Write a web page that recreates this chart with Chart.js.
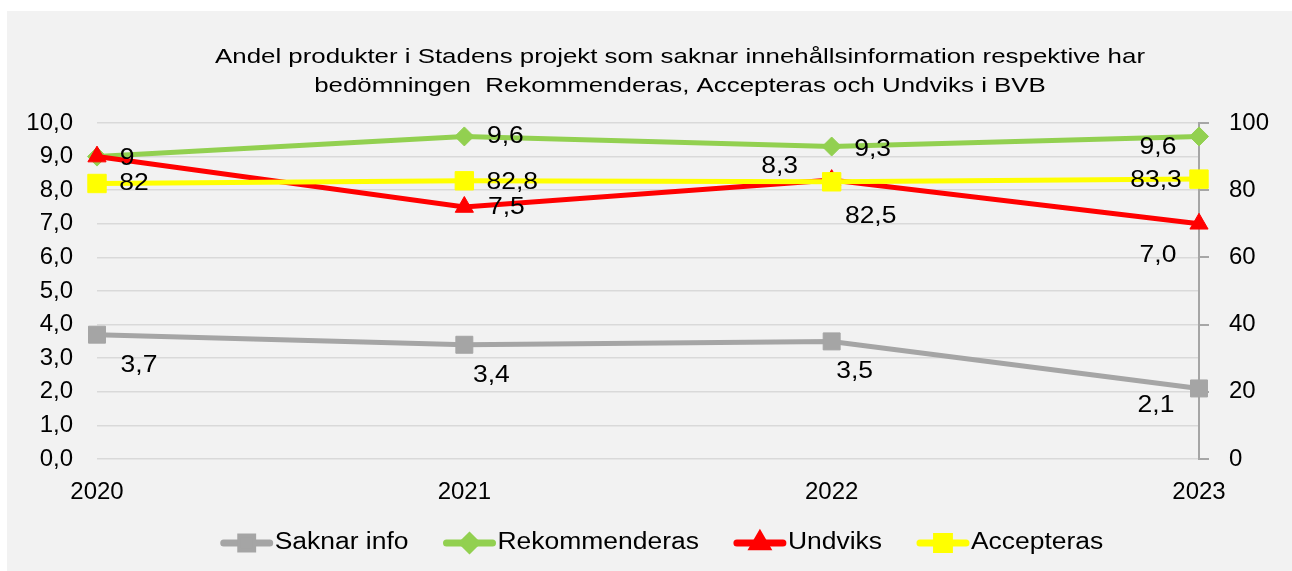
<!DOCTYPE html>
<html>
<head>
<meta charset="utf-8">
<script src="https://cdn.jsdelivr.net/npm/chart.js@4"></script>
<style>
html,body{margin:0;padding:0;background:#fff;}
#wrap{width:1292px;height:571px;position:relative;}
</style>
</head>
<body>
<div id="wrap"><canvas id="c"></canvas></div>
<script>
const categories = ['2020', '2021', '2022', '2023'];
const saknarInfo = [3.7, 3.4, 3.5, 2.1];
const rekommenderas = [9.0, 9.6, 9.3, 9.6];
const undviks = [9.0, 7.5, 8.3, 7.0];
const accepteras = [82, 82.8, 82.5, 83.3];
const seriesNames = ['Saknar info', 'Rekommenderas', 'Undviks', 'Accepteras'];
const saknarLabels = ['3,7', '3,4', '3,5', '2,1'];
const rekommLabels = ['', '9,6', '9,3', '9,6'];
const undviksLabels = ['9', '7,5', '8,3', '7,0'];
const acceptLabels = ['82', '82,8', '82,5', '83,3'];
const titleLines = ['Andel produkter i Stadens projekt som saknar innehållsinformation respektive har',
                    'bedömningen  Rekommenderas, Accepteras och Undviks i BVB'];

const FONT = '"Liberation Sans", Arial, sans-serif';
const SX = 1.15; // horizontal stretch of the reference text

// label offsets (dx, dy) relative to point center
const labelOffsets = [
  [[42,31],[27,31],[23,30],[-43,17]],
  [[0,0],[41,0],[41,3],[-41,11]],
  [[30,2],[42,1],[-52,-13],[-41,32]],
  [[37,0],[48,2],[39,35],[-43,2]]
];
const allLabels = [saknarLabels, rekommLabels, undviksLabels, acceptLabels];

function textX(ctx, t, x, y, sx, align) {
  ctx.save();
  ctx.translate(x, y);
  ctx.scale(sx, 1);
  ctx.textAlign = align;
  ctx.fillText(t, 0, 0);
  ctx.restore();
}

const bgPlugin = {
  id: 'bg',
  beforeDraw(chart) {
    const ctx = chart.ctx;
    ctx.save();
    ctx.fillStyle = '#ffffff';
    ctx.fillRect(0, 0, chart.width, chart.height);
    ctx.fillStyle = '#f2f2f2';
    ctx.fillRect(7, 11, chart.width - 7, chart.height - 11);
    // title
    ctx.fillStyle = '#000';
    ctx.font = '21px ' + FONT;
    ctx.textBaseline = 'middle';
    const w = ctx.measureText(titleLines[0]).width;
    const sx = 930 / w;
    textX(ctx, titleLines[0], 680, 57, sx, 'center');
    textX(ctx, titleLines[1], 680, 86, sx, 'center');
    ctx.restore();
  }
};

const labelPlugin = {
  id: 'labels',
  afterDatasetsDraw(chart) {
    const ctx = chart.ctx;
    ctx.save();
    ctx.fillStyle = '#000';
    ctx.font = '23px ' + FONT;
    ctx.textBaseline = 'middle';
    chart.data.datasets.forEach((ds, i) => {
      const meta = chart.getDatasetMeta(i);
      meta.data.forEach((pt, j) => {
        const t = allLabels[i][j];
        if (!t) return;
        const off = labelOffsets[i][j];
        textX(ctx, t, pt.x + off[0], pt.y + off[1], SX, 'center');
      });
    });
    ctx.restore();
  }
};

const legendPlugin = {
  id: 'customLegend',
  afterDraw(chart) {
    const ctx = chart.ctx;
    ctx.save();
    ctx.font = '23px ' + FONT;
    ctx.textBaseline = 'middle';
    const segW = 52, gap = 2, itemGap = 35;
    const items = chart.data.datasets.slice().sort((a,b)=>a.legendIndex-b.legendIndex);
    let total = 0;
    items.forEach((ds, k) => {
      total += segW + gap + ctx.measureText(ds.label).width * SX + (k < items.length - 1 ? itemGap : 0);
    });
    let x = 662 - total / 2;
    const y = 543;
    items.forEach(ds => {
      ctx.strokeStyle = ds.borderColor;
      ctx.lineWidth = 7;
      ctx.lineCap = 'round';
      ctx.beginPath();
      ctx.moveTo(x + 3, y);
      ctx.lineTo(x + segW - 3, y);
      ctx.stroke();
      Chart.helpers.drawPoint(ctx, {pointStyle: ds.pointStyle, radius: ds.pointRadius * 0.7, borderWidth: 1}, x + segW / 2, y);
      ctx.fillStyle = ds.borderColor;
      ctx.fill();
      ctx.fillStyle = '#000';
      textX(ctx, ds.label, x + segW + gap, y, SX, 'left');
      x += segW + gap + ctx.measureText(ds.label).width * SX + itemGap;
    });
    ctx.restore();
  }
};

const mk = (label, data, color, style, radius, axis, order, legendIndex) => ({
  label, data, borderColor: color, backgroundColor: color,
  pointBackgroundColor: color, pointBorderColor: color,
  pointStyle: style, pointRadius: radius, pointHoverRadius: radius,
  pointBorderWidth: 1, borderWidth: 5, tension: 0, yAxisID: axis, order, legendIndex
});

new Chart(document.getElementById('c'), {
  type: 'line',
  data: {
    labels: categories,
    datasets: [
      mk(seriesNames[0], saknarInfo, '#a5a5a5', 'rect', 12, 'y', 3, 0),
      mk(seriesNames[1], rekommenderas, '#92d050', 'rectRot', 9.5, 'y', 2, 1),
      mk(seriesNames[2], undviks, '#ff0000', 'triangle', 10.5, 'y', 1, 2),
      mk(seriesNames[3], accepteras, '#ffff00', 'rect', 13, 'y1', 0, 3)
    ]
  },
  options: {
    responsive: true,
    maintainAspectRatio: false,
    animation: false,
    layout: { padding: { top: 123, left: 0, right: 0, bottom: 0 } },
    plugins: { legend: { display: false }, title: { display: false }, tooltip: { enabled: false } },
    scales: {
      x: {
        offset: false,
        grid: { display: false },
        border: { display: false },
        ticks: { color: '#000', font: { family: FONT, size: 24 }, padding: 11, maxRotation: 0 },
        afterFit(s) { s.height = 112; }
      },
      y: {
        position: 'left', min: 0, max: 10,
        grid: { color: '#d9d9d9', lineWidth: 1.5, drawTicks: false },
        border: { display: false },
        ticks: { stepSize: 1, color: '#000', font: { family: FONT, size: 24 }, padding: 24,
          callback: v => v.toFixed(1).replace('.', ',') },
        afterFit(s) { s.width = 97; }
      },
      y1: {
        position: 'right', min: 0, max: 100,
        grid: { drawOnChartArea: false, color: '#a6a6a6', lineWidth: 2, tickLength: 10 },
        border: { display: true, color: '#a6a6a6', width: 2 },
        ticks: { stepSize: 20, color: '#000', font: { family: FONT, size: 24 }, padding: 20 },
        afterFit(s) { s.width = 93; }
      }
    }
  },
  plugins: [bgPlugin, labelPlugin, legendPlugin]
});
</script>
</body>
</html>
